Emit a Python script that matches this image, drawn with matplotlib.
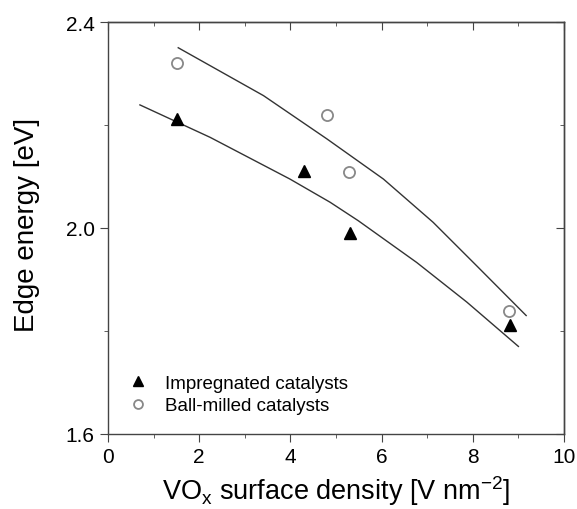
import matplotlib
matplotlib.use('Agg')
import matplotlib.pyplot as plt
import numpy as np

plt.rcParams['font.family'] = ['Liberation Sans', 'DejaVu Sans']
plt.rcParams['mathtext.fontset'] = 'custom'
plt.rcParams['mathtext.rm'] = 'Liberation Sans'
plt.rcParams['mathtext.it'] = 'Liberation Sans:italic'

# measured points
imp_x = [1.51, 4.30, 5.31, 8.82]
imp_y = [2.212, 2.110, 1.990, 1.812]
bm_x = [1.51, 4.80, 5.28, 8.80]
bm_y = [2.320, 2.219, 2.108, 1.839]

# fit curves
imp_fit_x = [0.70, 2.24, 3.99, 4.87, 5.49, 6.77, 7.87, 9.00]
imp_fit_y = [2.239, 2.176, 2.095, 2.050, 2.014, 1.933, 1.856, 1.770]
bm_fit_x = [1.54, 3.41, 4.80, 6.04, 7.13, 8.08, 9.17]
bm_fit_y = [2.350, 2.257, 2.173, 2.095, 2.011, 1.927, 1.830]

fig = plt.figure(figsize=(5.77, 5.10), dpi=100)
ax = fig.add_axes([0.1872, 0.1471, 0.7903, 0.8078])

ax.plot(imp_fit_x, imp_fit_y, color='#333333', lw=1.0)
ax.plot(bm_fit_x, bm_fit_y, color='#333333', lw=1.0)
ax.plot(imp_x, imp_y, '^', color='black', ms=9, ls='none',
        label='Impregnated catalysts')
ax.plot(bm_x, bm_y, 'o', mfc='white', mec='#888888', mew=1.3, ms=8,
        ls='none', label='Ball-milled catalysts')

ax.set_xlim(0, 10)
ax.set_ylim(1.6, 2.4)
ax.set_xticks([0, 2, 4, 6, 8, 10])
ax.set_xticks([1, 3, 5, 7, 9], minor=True)
ax.set_yticks([1.6, 2.0, 2.4])
ax.set_yticks([1.8, 2.2], minor=True)
ax.set_yticklabels(['1.6', '2.0', '2.4'])

ax.tick_params(which='both', direction='out', labelsize=15, color='#444444')
ax.tick_params(which='major', length=6)
ax.tick_params(which='minor', length=3)

# mirrored ticks pointing inward on top and right
top = ax.secondary_xaxis('top')
top.set_xticks([0, 2, 4, 6, 8, 10])
top.set_xticks([1, 3, 5, 7, 9], minor=True)
top.tick_params(which='both', direction='in', labeltop=False, color='#444444')
top.tick_params(which='major', length=6)
top.tick_params(which='minor', length=3)
right = ax.secondary_yaxis('right')
right.set_yticks([1.6, 2.0, 2.4])
right.set_yticks([1.8, 2.2], minor=True)
right.tick_params(which='both', direction='in', labelright=False, color='#444444')
right.tick_params(which='major', length=6)
right.tick_params(which='minor', length=3)

for sp in list(ax.spines.values()) + [top.spines['top'], right.spines['right']]:
    sp.set_color('#444444')
    sp.set_linewidth(1.0)

ax.set_xlabel('VO$_\\mathregular{x}$ surface density [V nm$^\\mathregular{-2}$]',
              fontsize=19.5)
ax.xaxis.set_label_coords(0.5, -0.095)
ax.set_ylabel('Edge energy [eV]', fontsize=20)
ax.yaxis.set_label_coords(-0.15, 0.51)

ax.legend(loc='lower left', bbox_to_anchor=(0.028, 0.03), borderaxespad=0,
          frameon=False, fontsize=13.5, handlelength=1.0, handletextpad=0.94,
          labelspacing=0.29, markerscale=0.8)

fig.savefig('out.png', dpi=100)
